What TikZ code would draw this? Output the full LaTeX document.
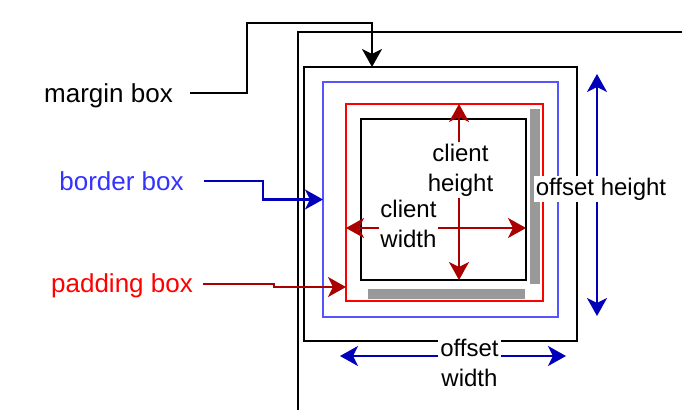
\documentclass[tikz,border=0pt]{standalone}
\usepackage{fontspec}
\setmainfont{Liberation Sans}
\usetikzlibrary{arrows.meta}

\begin{document}
\begin{tikzpicture}[x=1pt,y=-1pt,line cap=butt]
  % Styles
  \tikzset{
    wall/.style={line width=2.2pt},
    box/.style={draw, line width=2.2pt, inner sep=0pt, outer sep=0pt},
    tip/.style={-{Stealth[length=18pt,width=20pt,inset=5pt]}, line width=2.2pt},
    twotips/.style={{Stealth[length=18pt,width=20pt,inset=5pt]}-{Stealth[length=18pt,width=20pt,inset=5pt]}, line width=2.2pt},
    tag/.style={font=\fontsize{26}{30}\selectfont, inner sep=0pt, text height=19pt, text depth=5pt},
    dim/.style={font=\fontsize{24}{30}\selectfont, fill=white, align=center, inner sep=2pt}
  }

  % Colors
  \definecolor{bordertext}{RGB}{51,51,255}
  \definecolor{borderline}{RGB}{85,85,255}
  \definecolor{darkblue}{RGB}{0,0,187}
  \definecolor{paddred}{RGB}{255,0,0}
  \definecolor{darkred}{RGB}{170,0,0}
  \definecolor{bar}{RGB}{153,153,153}

  \useasboundingbox (0,0) rectangle (682,410);

  % Page edge
  \draw[wall] (298,410) |- (682,32);

  % Nested boxes
  \node[box, minimum width=273pt, minimum height=274pt] (margin) at (440.5,204) {};
  \node[box, draw=borderline, minimum width=235pt, minimum height=235pt] (border) at (440.5,199.5) {};
  \node[box, draw=paddred, minimum width=197pt, minimum height=197pt] (padding) at (444.5,202.5) {};
  \node[box, minimum width=165pt, minimum height=161pt] (client) at (443.5,199.5) {};

  % Scroll bars
  \fill[bar] (530,109) rectangle (540,284);
  \fill[bar] (368,289) rectangle (525,299);

  % Box names
  \node[tag] (marginlbl) at (108.5,95) {margin box};
  \node[tag, text=bordertext] (borderlbl) at (121.5,183) {border box};
  \node[tag, text=paddred] (paddinglbl) at (122,285) {padding box};

  \draw[tip] ([xshift=17pt,yshift=2pt]marginlbl.east) -| (247,23) -| ([xshift=68pt]margin.north west);
  \draw[tip, darkblue] ([xshift=20pt,yshift=2pt]borderlbl.east) -| (263,199.5) -- (border.west);
  \draw[tip, darkred] ([xshift=10pt,yshift=1pt]paddinglbl.east) -| (274,287) -- (padding.west |- 0,287);

  % Client size
  \draw[twotips, darkred] (459,0 |- padding.north) -- (459,0 |- client.south);
  \draw[twotips, darkred] (padding.west |- 0,228) -- (client.east |- 0,228);

  % Offset size
  \coordinate (ohtop) at (597,74);
  \coordinate (ohbot) at (597,316);
  \coordinate (owleft) at (340,356);
  \coordinate (owright) at (566,356);
  \draw[twotips, darkblue] (ohtop) -- (ohbot);
  \draw[twotips, darkblue] (owleft) -- (owright);

  % Dimension names
  \node[dim] (chlbl) at (460.5,170) {client\\height};
  \node[dim, inner sep=1pt] (cwlbl) at (408.5,224) {client\\width};
  \node[dim] (ohlbl) at (601,189) {offset height};
  \node[dim] (owlbl) at (469.5,363) {offset\\width};
\end{tikzpicture}
\end{document}
